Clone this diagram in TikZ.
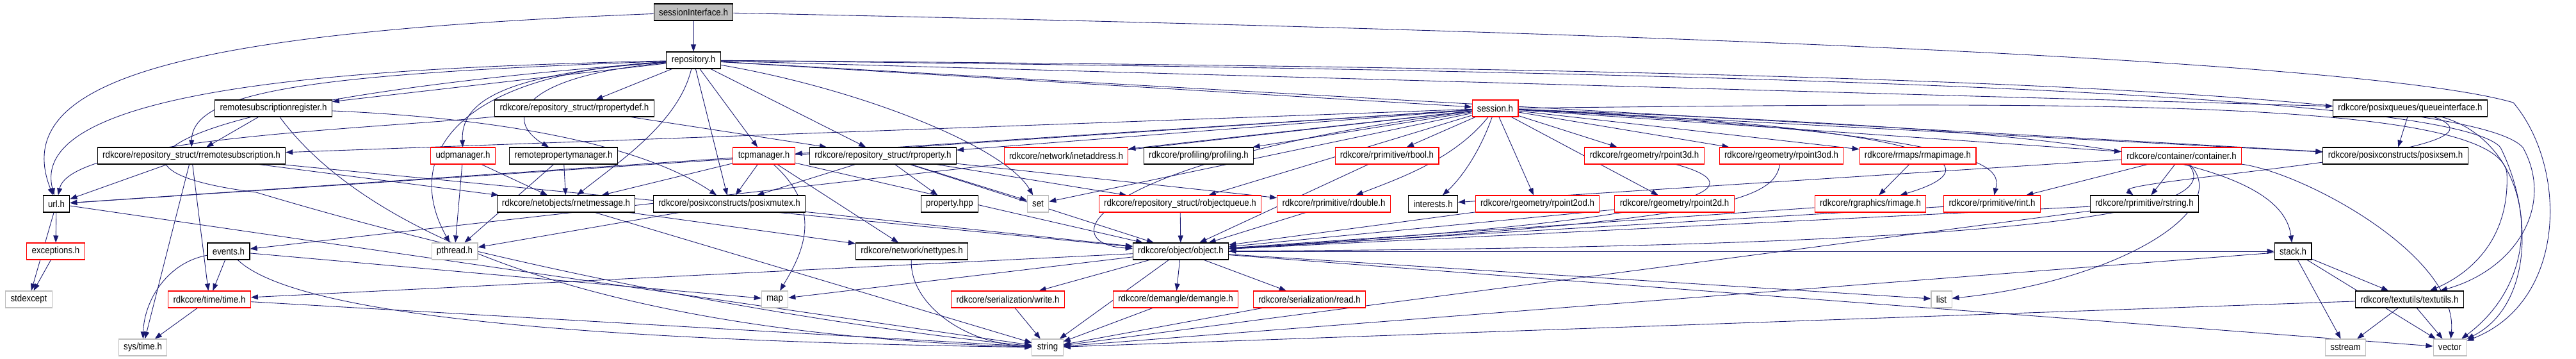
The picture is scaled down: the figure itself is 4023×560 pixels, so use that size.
\documentclass[tikz,border=0pt]{standalone}
\usepackage{fontspec}
\newfontfamily\graphfont{Liberation Sans}[FakeStretch=0.9]
\usepackage{xcolor}
\usepackage{tikz}
\usetikzlibrary{arrows.meta}
\definecolor{edgeblue}{HTML}{191970}
\definecolor{sysgray}{HTML}{BFBFBF}
\pgfdeclarelayer{edges}
\pgfsetlayers{edges,main}

\begin{document}
\begin{tikzpicture}[x=0.02cm,y=-0.02cm,
  file/.style={draw=black,fill=white,line width=0.6pt,inner xsep=4.5pt,inner ysep=0pt,
    minimum height=0.52cm,font=\graphfont\fontsize{8.4}{10}\selectfont},
  redfile/.style={file,draw=red},
  sysfile/.style={file,draw=sysgray},
  dep/.style={edgeblue,line width=0.5pt,-{Triangle[length=0.22cm,width=0.16cm]}}]
  \useasboundingbox (0,0) rectangle (4023,560);

  % rank 1 and 2
  \node[file,fill=sysgray] (si) at (1083,19) {sessionInterface.h};
  \node[file] (repo) at (1083,94) {repository.h};
  % rank 3
  \node[file] (rsreg) at (427,169) {remotesubscriptionregister.h};
  \node[file] (propdef) at (897,169) {rdkcore/repository\_struct/rpropertydef.h};
  \node[redfile] (session) at (2335,169) {session.h};
  \node[file] (qiface) at (3764,169) {rdkcore/posixqueues/queueinterface.h};
  % rank 4
  \node[file] (rremsub) at (299,243) {rdkcore/repository\_struct/rremotesubscription.h};
  \node[redfile] (udpman) at (723,243) {udpmanager.h};
  \node[file] (rpropman) at (880,243) {remotepropertymanager.h};
  \node[redfile] (tcpman) at (1193,243) {tcpmanager.h};
  \node[file] (rprop) at (1379,243) {rdkcore/repository\_struct/rproperty.h};
  \node[redfile] (inetaddr) at (1665,243) {rdkcore/network/inetaddress.h};
  \node[file] (profiling) at (1872,243) {rdkcore/profiling/profiling.h};
  \node[redfile] (rbool) at (2166,243) {rdkcore/rprimitive/rbool.h};
  \node[redfile] (rpthreed) at (2568,243) {rdkcore/rgeometry/rpoint3d.h};
  \node[redfile] (rpthreeod) at (2782,243) {rdkcore/rgeometry/rpoint3od.h};
  \node[redfile] (rmapimage) at (2995,243) {rdkcore/rmaps/rmapimage.h};
  \node[redfile] (container) at (3407,243) {rdkcore/container/container.h};
  \node[file] (posixsem) at (3741,243) {rdkcore/posixconstructs/posixsem.h};
  % rank 5
  \node[file] (url) at (88,318) {url.h};
  \node[file] (netmsg) at (884,318) {rdkcore/netobjects/rnetmessage.h};
  \node[file] (posixmutex) at (1139,318) {rdkcore/posixconstructs/posixmutex.h};
  \node[file] (prophpp) at (1483,318) {property.hpp};
  \node[sysfile] (set) at (1621,318) {set};
  \node[redfile] (objqueue) at (1843,318) {rdkcore/repository\_struct/robjectqueue.h};
  \node[redfile] (rdouble) at (2083,318) {rdkcore/rprimitive/rdouble.h};
  \node[file] (interests) at (2238,318) {interests.h};
  \node[redfile] (rpttwood) at (2401,318) {rdkcore/rgeometry/rpoint2od.h};
  \node[redfile] (rpttwod) at (2615,318) {rdkcore/rgeometry/rpoint2d.h};
  \node[redfile] (rimage) at (2921,318) {rdkcore/rgraphics/rimage.h};
  \node[redfile] (rint) at (3111,318) {rdkcore/rprimitive/rint.h};
  \node[file] (rstring) at (3349,318) {rdkcore/rprimitive/rstring.h};
  % rank 6
  \node[redfile] (exceptions) at (87,392) {exceptions.h};
  \node[file] (events) at (357,392) {events.h};
  \node[sysfile] (pthread) at (710,392) {pthread.h};
  \node[file] (nettypes) at (1424,392) {rdkcore/network/nettypes.h};
  \node[file] (object) at (1844,392) {rdkcore/object/object.h};
  \node[file] (stack) at (3581,392) {stack.h};
  % rank 7
  \node[sysfile] (stdexcept) at (45,467) {stdexcept};
  \node[redfile] (timeh) at (327,467) {rdkcore/time/time.h};
  \node[sysfile] (map) at (1210,467) {map};
  \node[redfile] (write) at (1574,467) {rdkcore/serialization/write.h};
  \node[redfile] (demangle) at (1836,467) {rdkcore/demangle/demangle.h};
  \node[redfile] (read) at (2045,467) {rdkcore/serialization/read.h};
  \node[sysfile] (list) at (3032,467) {list};
  \node[file] (textutils) at (3763,467) {rdkcore/textutils/textutils.h};
  % rank 8
  \node[sysfile] (systime) at (223,542) {sys/time.h};
  \node[sysfile] (string) at (1636,542) {string};
  \node[sysfile] (sstream) at (3663,542) {sstream};
  \node[sysfile] (vector) at (3826,542) {vector};

  \begin{pgfonlayer}{edges}
    \fill[white] (0,0) rectangle (4023,560);
    % straight includes
    \foreach \src/\dst in {si/repo, repo/rsreg, repo/propdef, repo/posixmutex, repo/tcpman,
        repo/rprop, repo/session, repo/qiface, repo/posixsem, rsreg/rremsub, propdef/rprop,
        session/rremsub, session/url, session/tcpman, session/rprop, session/inetaddr,
        session/profiling, session/rbool, session/rpthreed, session/rpthreeod, session/rmapimage,
        session/container, session/posixsem, session/set, session/objqueue, session/rpttwood,
        session/rpttwod, session/events, rremsub/url, rremsub/netmsg, rremsub/timeh,
        rremsub/systime, rremsub/object, udpman/pthread, udpman/netmsg, rpropman/pthread,
        rpropman/netmsg, tcpman/netmsg, tcpman/posixmutex, tcpman/nettypes, tcpman/object,
        tcpman/url, rprop/prophpp, rprop/set, rprop/objqueue, rprop/rdouble, rprop/object,
        rprop/posixmutex, posixmutex/pthread, posixmutex/object, netmsg/nettypes, netmsg/string,
        url/exceptions, url/stdexcept, url/string, exceptions/stdexcept, events/timeh, events/map,
        timeh/systime, timeh/string, objqueue/object, rdouble/object, rbool/object,
        rpttwood/object, rpttwod/object, rimage/object, rint/object, rstring/object,
        rstring/string, container/interests, container/rstring, container/rint,
        rmapimage/rimage, object/write, object/demangle, object/read, object/string, object/map,
        object/list, object/timeh, object/stack, object/vector, write/string, demangle/string,
        read/string, stack/string, stack/sstream, stack/vector, stack/textutils,
        textutils/string, textutils/sstream, textutils/vector, qiface/posixsem}
      \draw[dep] (\src) -- (\dst);
    % routed includes
    \draw[dep] (si) .. controls (300,50) and (10,120) .. (url);
    \draw[dep] (si) .. controls (2600,50) and (3700,95) .. (3925,160)
      .. controls (4010,260) and (4010,470) .. (vector);
    \draw[dep] (repo) .. controls (600,105) and (40,130) .. (url);
    \draw[dep] (repo) .. controls (500,115) and (300,140) .. (rremsub);
    \draw[dep] (repo) .. controls (780,115) and (720,160) .. (udpman);
    \draw[dep] (repo) .. controls (800,120) and (790,190) .. (rpropman);
    \draw[dep] (repo) .. controls (1060,190) and (970,250) .. (netmsg);
    \draw[dep] (repo) .. controls (700,115) and (630,250) .. (pthread);
    \draw[dep] (repo) .. controls (1350,140) and (1570,230) .. (set);
    \draw[dep] (repo) .. controls (300,150) and (80,260) .. (400,300)
      .. controls (900,450) and (1400,520) .. (string);
    \draw[dep] (repo) .. controls (2600,105) and (3850,130) .. (3940,230)
      .. controls (3990,320) and (3930,420) .. (textutils);
    \draw[dep] (repo) .. controls (2600,110) and (3830,140) .. (3905,230)
      .. controls (3960,340) and (3950,480) .. (vector);
    \draw[dep] (propdef) .. controls (600,200) and (110,215) .. (url);
    \draw[dep] (rsreg) .. controls (800,185) and (1010,230) .. (posixmutex);
    \draw[dep] (rsreg) .. controls (560,350) and (900,520) .. (string);
    \draw[dep] (session) .. controls (1700,250) and (1640,380) .. (object);
    \draw[dep] (session) .. controls (2270,250) and (2180,280) .. (rdouble);
    \draw[dep] (session) .. controls (2310,240) and (2280,280) .. (interests);
    \draw[dep] (session) .. controls (3050,200) and (3120,260) .. (rimage);
    \draw[dep] (session) .. controls (3110,210) and (3125,260) .. (rint);
    \draw[dep] (session) .. controls (3150,200) and (3560,230) .. (stack);
    \draw[dep] (session) .. controls (3200,160) and (3900,150) .. (3915,270)
      .. controls (3920,380) and (3850,430) .. (textutils);
    \draw[dep] (qiface) .. controls (3960,240) and (3300,280) .. (rstring);
    \draw[dep] (qiface) .. controls (3950,220) and (3990,420) .. (vector);
    \draw[dep] (container) .. controls (3470,320) and (3300,385) .. (object);
    \draw[dep] (container) .. controls (3490,330) and (3300,440) .. (list);
    \draw[dep] (container) .. controls (3600,270) and (3840,400) .. (vector);
    \draw[dep] (rpthreed) .. controls (2740,290) and (2700,340) .. (object);
    \draw[dep] (rpthreeod) .. controls (2770,310) and (2700,345) .. (object);
    \draw[dep] (tcpman) .. controls (1290,330) and (1250,400) .. (map);
    \draw[dep] (nettypes) .. controls (1420,470) and (1500,535) .. (string);
    \draw[dep] (events) .. controls (260,410) and (225,470) .. (systime);
    \draw[dep] (events) .. controls (450,480) and (800,530) .. (string);
  \end{pgfonlayer}
\end{tikzpicture}
\end{document}
